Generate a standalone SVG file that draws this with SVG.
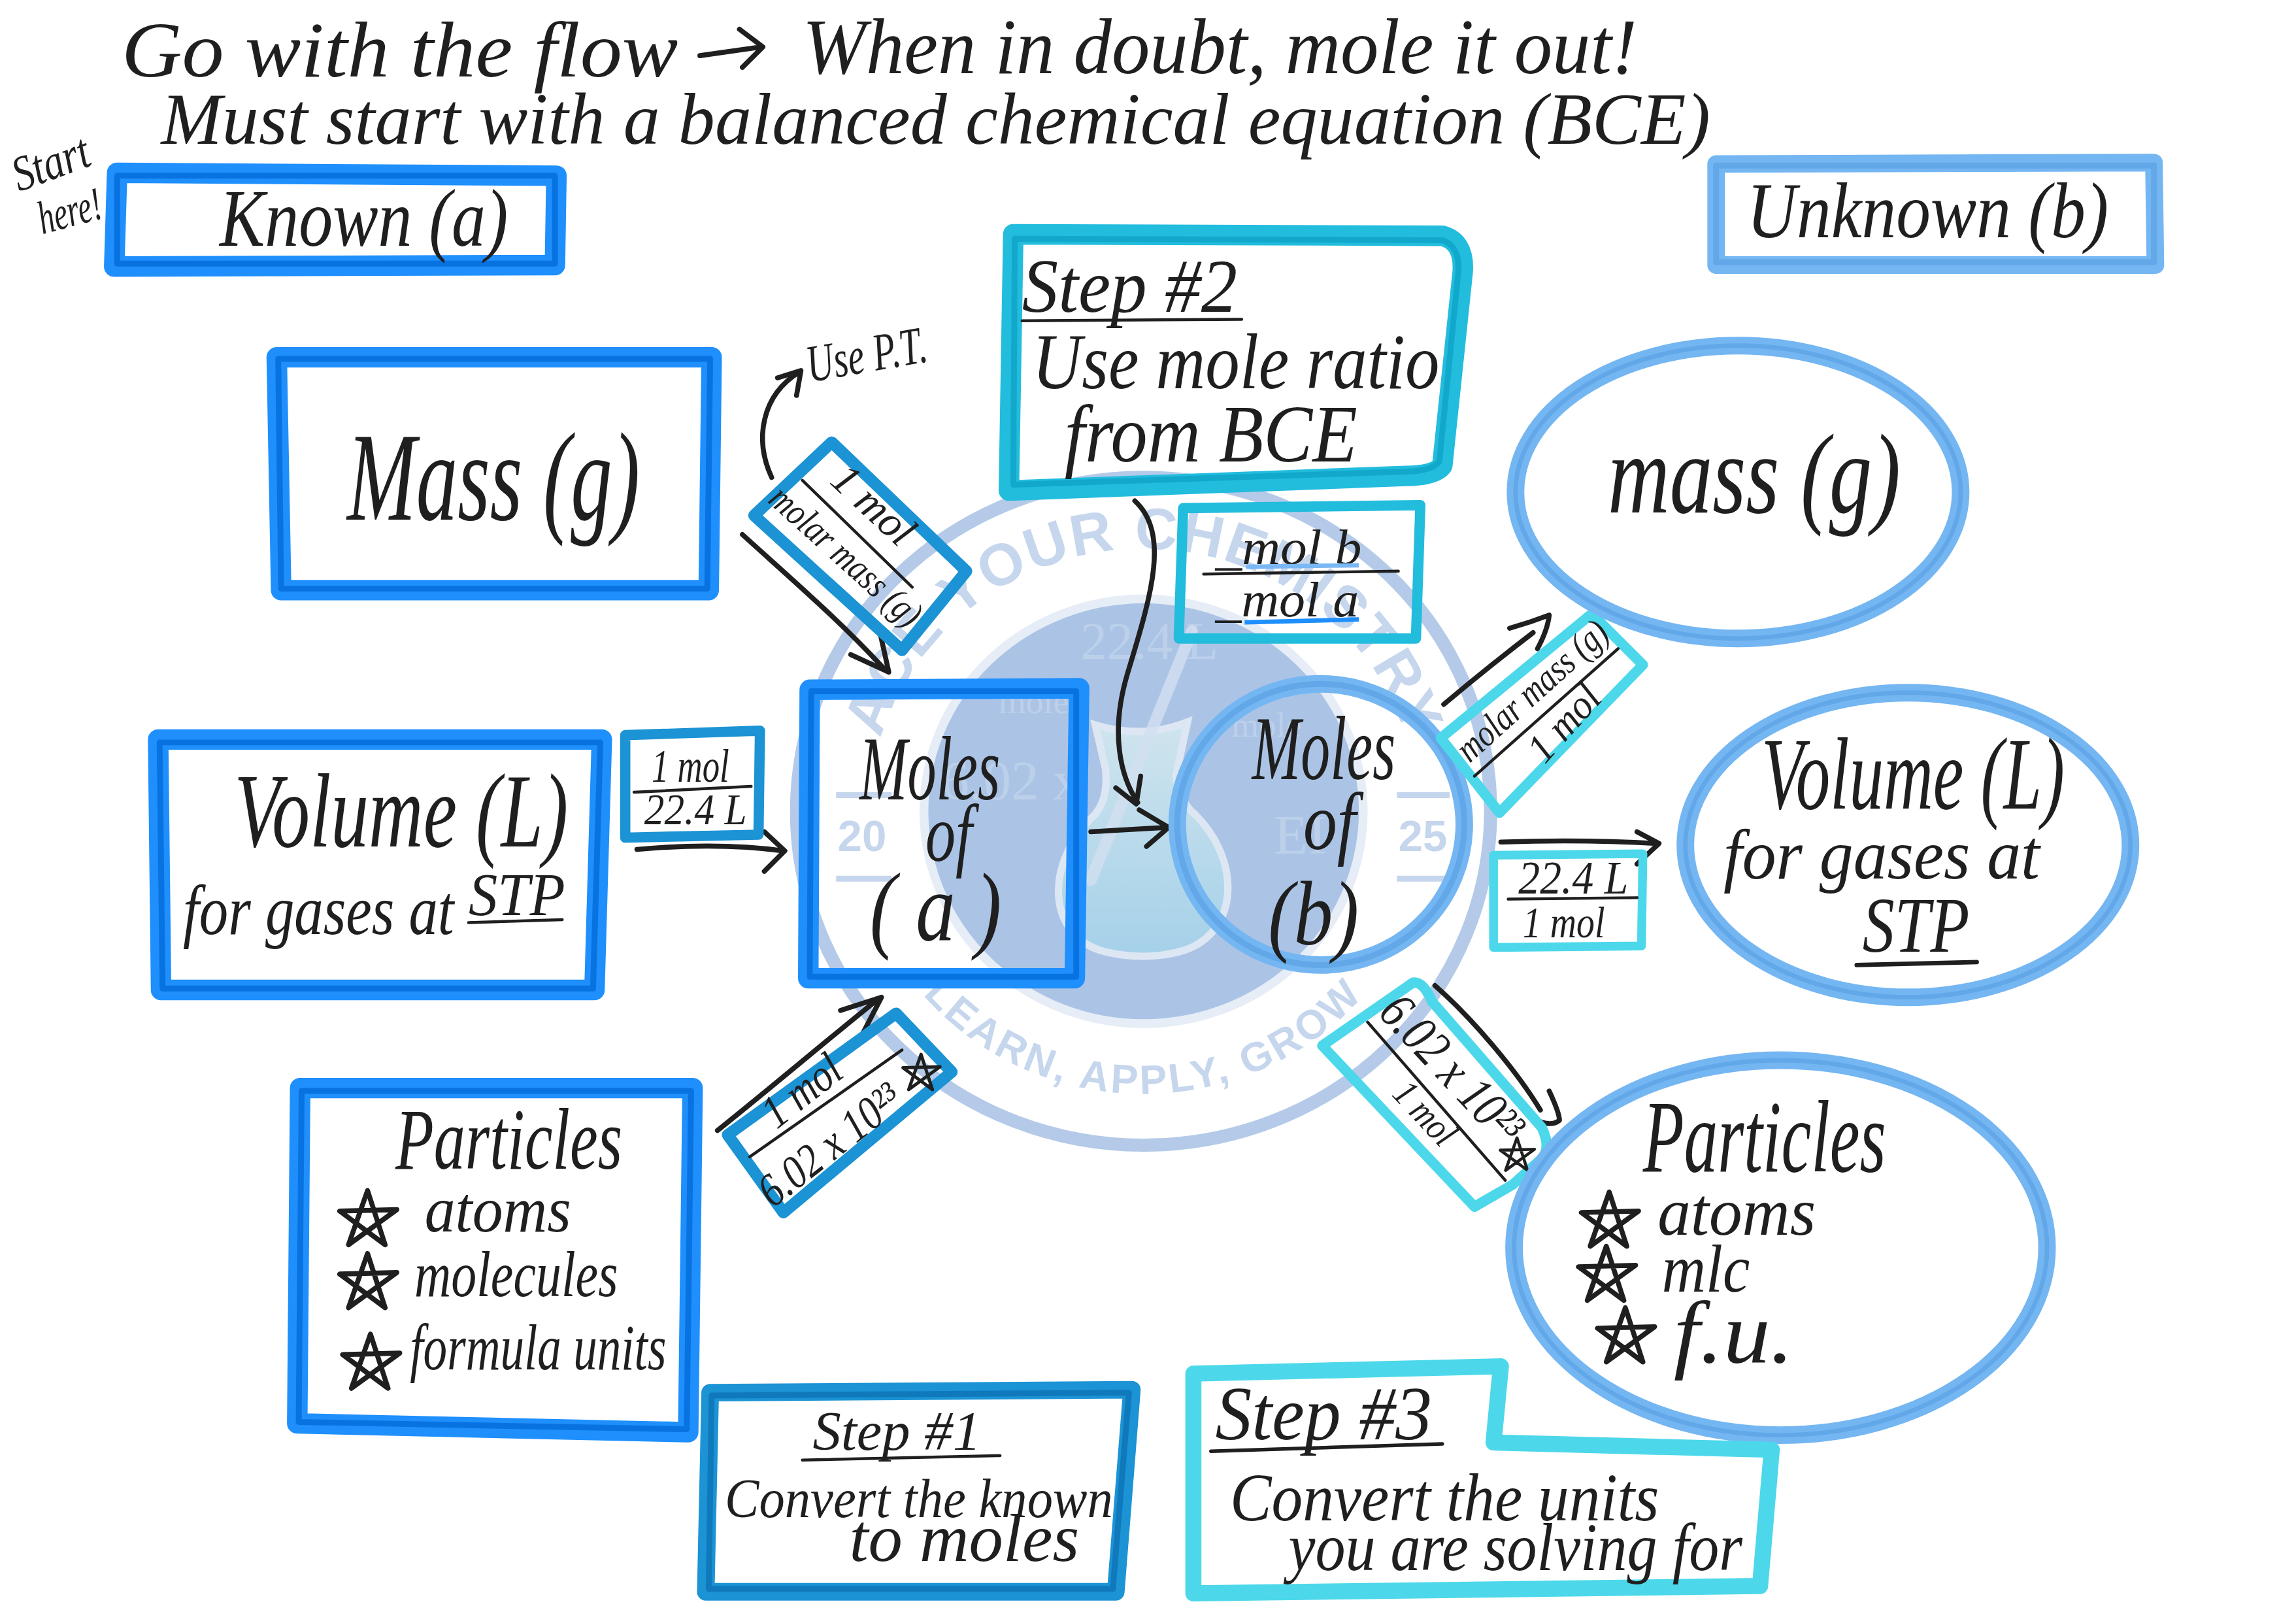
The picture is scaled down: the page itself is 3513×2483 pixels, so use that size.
<svg xmlns="http://www.w3.org/2000/svg" width="3513" height="2483" viewBox="0 0 3513 2483">
<style>
.h{font-family:"Liberation Serif","DejaVu Serif",serif;font-style:italic;fill:#1f1f1f}
.wm{font-family:"Liberation Sans",Arial,sans-serif;font-weight:700;fill:#c5d6ed}
.wd{font-family:"Liberation Serif",serif;fill:#bdd0ea}
.s{fill:none;stroke-linejoin:round;stroke-linecap:round}
.a{stroke:#1e8ffc;stroke-width:14}.ad{stroke:#0873e0;stroke-width:4}
.l{stroke:#74b6f2;stroke-width:12}.ld{stroke:#62a7e8;stroke-width:4}
.t{stroke:#22bcdd;stroke-width:14}.td{stroke:#12a8cc;stroke-width:4}
.m{stroke:#1b93d4;stroke-width:12}.md{stroke:#1079bb;stroke-width:4}
.c{stroke:#4cd8ea;stroke-width:9}
.k{fill:none;stroke:#1f1f1f;stroke-width:3.4;stroke-linecap:round;stroke-linejoin:round}
.u{fill:none;stroke:#1f1f1f;stroke-width:2;stroke-linecap:round}
</style>
<defs>
<path id="star" class="k" d="M0,-20L12,17L-19,-6L20,-7L-13,17Z"/>
<path id="topArc" d="M603,610A187,180 0 1 1 959,610"/>
<path id="botArc" d="M583,554A198,193 0 0 0 979,554"/>
<linearGradient id="liq" x1="0" y1="0" x2="0" y2="1"><stop offset="0" stop-color="#dff2f1"/><stop offset="1" stop-color="#a2d6ea"/></linearGradient>
</defs>
<rect width="3513" height="2483" fill="#fff"/>
<g transform="scale(2.2404)">
<g id="watermark">
<ellipse cx="781" cy="554" rx="237" ry="228" fill="none" stroke="#b4cae8" stroke-width="9"/>
<ellipse cx="781" cy="554" rx="150" ry="145" fill="#abc4e6" stroke="#e6edf6" stroke-width="6"/>
<text class="wm" font-size="40" text-anchor="middle" letter-spacing="1"><textPath href="#topArc" startOffset="50%">ACE YOUR CHEMISTRY</textPath></text>
<text class="wm" font-size="28" text-anchor="middle" letter-spacing="2"><textPath href="#botArc" startOffset="50%">LEARN, APPLY, GROW</textPath></text>
<text class="wm" font-size="30" x="572" y="581">20</text>
<text class="wm" font-size="30" x="955" y="581">25</text>
<path d="M571,543H609M571,600H609M954,543H990M954,600H990" stroke="#c5d6ed" stroke-width="4" fill="none"/>
<text class="wd" font-size="36" x="738" y="450">22.4 L</text>
<text class="wd" font-size="24" x="682" y="487">mole</text>
<text class="wd" font-size="24" x="841" y="503">mole</text>
<text class="wd" font-size="38" x="643" y="546">6.02 x</text>
<text class="wd" font-size="38" x="870" y="583">EI</text>
<path d="M748,495Q781,505 811,493L803,530Q806,548 816,556C850,590 845,640 805,650Q781,656 755,650C715,640 712,590 748,556Q757,545 755,525Z" fill="url(#liq)" fill-opacity=".7" stroke="#dde7f3" stroke-width="5"/>
<path d="M814,431L745,601" stroke="#d3e0f0" stroke-width="8" stroke-linecap="round" opacity=".8"/>
</g>
<g id="connectors">
<path class="k" d="M527,326C515,300 520,270 546,254M531,258L547,253L544,270"/>
<path class="k" d="M507,365C540,395 575,425 605,458M581,447L607,459L601,432"/>
<path class="k" d="M435,580Q490,575 535,581M522,568L536,581L522,595"/>
<path class="k" d="M490,772C530,740 565,710 600,682M574,690L602,681L588,708"/>
<path class="k" d="M745,568L797,565M778,553L798,565L783,578"/>
<path class="k" d="M775,342C800,365 785,410 770,460C758,500 765,530 777,548M762,538L776,549L779,530"/>
<path class="k" d="M986,481C1005,465 1030,445 1047,432M1031,429Q1045,425 1058,420Q1057,430 1050,443"/>
<path class="k" d="M1025,575Q1080,573 1132,576M1118,568L1133,576L1118,590"/>
<path class="k" d="M980,673C1005,695 1035,730 1052,758M1058,745Q1065,760 1065,765Q1060,769 1052,766"/>
</g>
<g id="title">
<text class="h" font-size="54" x="83" y="52" textLength="380" lengthAdjust="spacingAndGlyphs">Go with the flow</text>
<path class="k" d="M478,38L520,32M505,20L521,32L507,46"/>
<text class="h" font-size="54" x="548" y="50" textLength="570" lengthAdjust="spacingAndGlyphs">When in doubt, mole it out!</text>
<text class="h" font-size="50" x="110" y="98" textLength="1058" lengthAdjust="spacingAndGlyphs">Must start with a balanced chemical equation (BCE)</text>
<text class="h" font-size="34" transform="translate(13,131) rotate(-20)" textLength="54" lengthAdjust="spacingAndGlyphs">Start</text>
<text class="h" font-size="32" transform="translate(29,160) rotate(-15)" textLength="44" lengthAdjust="spacingAndGlyphs">here!</text>
</g>
<g id="known"><path class="s a" d="M80,118L380,120L379,181L78,182Z"/><path class="s ad" d="M80,120H379V180H80Z"/>
<text class="h" font-size="56" x="150" y="168" textLength="197" lengthAdjust="spacingAndGlyphs">Known (a)</text></g>
<g id="unknown"><path class="s l" d="M1172,112L1471,111L1472,181L1172,181Z"/><path class="s ld" d="M1172,113H1471V179H1172Z"/>
<text class="h" font-size="54" x="1193" y="162" textLength="247" lengthAdjust="spacingAndGlyphs">Unknown (b)</text></g>
<g id="mass-a"><path class="s a" d="M189,244L486,244L484,403L192,403Z"/><path class="s ad" d="M190,245H485L483,402H192Z"/>
<text class="h" font-size="86" x="237" y="355" textLength="200" lengthAdjust="spacingAndGlyphs">Mass (g)</text></g>
<g id="volume-a"><path class="s a" d="M108,505L411,505L406,676L110,676Z"/><path class="s ad" d="M109,507H410L405,675H111Z"/>
<text class="h" font-size="72" x="160" y="578" textLength="228" lengthAdjust="spacingAndGlyphs">Volume (L)</text>
<text class="h" font-size="48" x="125" y="638" textLength="185" lengthAdjust="spacingAndGlyphs">for gases at</text>
<text class="h" font-size="42" x="320" y="625" textLength="66" lengthAdjust="spacingAndGlyphs">STP</text>
<path class="u" d="M320,630L384,628"/></g>
<g id="particles-a"><path class="s a" d="M205,743L473,743L470,978L203,972Z"/><path class="s ad" d="M206,745H472L469,976L204,971Z"/>
<text class="h" font-size="60" x="270" y="798" textLength="155" lengthAdjust="spacingAndGlyphs">Particles</text>
<use href="#star" transform="translate(251,833)"/><text class="h" font-size="44" x="290" y="841" textLength="100" lengthAdjust="spacingAndGlyphs">atoms</text>
<use href="#star" transform="translate(251,876)"/><text class="h" font-size="44" x="283" y="885" textLength="139" lengthAdjust="spacingAndGlyphs">molecules</text>
<use href="#star" transform="translate(253,931)"/><text class="h" font-size="44" x="280" y="935" textLength="175" lengthAdjust="spacingAndGlyphs">formula units</text></g>
<g id="moles-a"><path class="s a" d="M553,471L737,470L734,668L552,668Z"/><path class="s ad" d="M554,472H735V667H553Z"/>
<text class="h" font-size="62" x="587" y="546" textLength="96" lengthAdjust="spacingAndGlyphs">Moles</text>
<text class="h" font-size="56" x="632" y="588" textLength="32" lengthAdjust="spacingAndGlyphs">of</text>
<text class="h" font-size="66" x="594" y="642" textLength="90" lengthAdjust="spacingAndGlyphs">( a )</text></g>
<g id="moles-b"><ellipse class="s l" cx="902" cy="563" rx="98" ry="96"/><ellipse class="s ld" cx="902" cy="563" rx="98" ry="96"/>
<text class="h" font-size="62" x="855" y="532" textLength="98" lengthAdjust="spacingAndGlyphs">Moles</text>
<text class="h" font-size="56" x="890" y="580" textLength="36" lengthAdjust="spacingAndGlyphs">of</text>
<text class="h" font-size="62" x="866" y="645" textLength="62" lengthAdjust="spacingAndGlyphs">(b)</text></g>
<g id="step2"><path class="s t" d="M692,160L985,161Q1000,165 999,185L985,318Q980,325 960,325L689,335Z"/><path class="s td" d="M693,163L985,164Q997,168 996,185L983,315Q978,322 960,322L692,331Z"/>
<text class="h" font-size="52" x="698" y="213" textLength="147" lengthAdjust="spacingAndGlyphs">Step #2</text><path class="u" d="M698,219L848,218"/>
<text class="h" font-size="54" x="705" y="265" textLength="278" lengthAdjust="spacingAndGlyphs">Use mole ratio</text>
<text class="h" font-size="56" x="727" y="315" textLength="200" lengthAdjust="spacingAndGlyphs">from BCE</text></g>
<g id="use-pt"><text class="h" font-size="36" transform="translate(553,261) rotate(-10)" textLength="83" lengthAdjust="spacingAndGlyphs">Use P.T.</text></g>
<g id="ratio"><path class="s t" style="stroke-width:7" d="M808,347L970,345L967,436L805,436Z"/>
<text class="h" font-size="34" x="830" y="385" textLength="100" lengthAdjust="spacingAndGlyphs">_mol b</text>
<path class="u" d="M822,392L955,390"/>
<text class="h" font-size="34" x="830" y="421" textLength="98" lengthAdjust="spacingAndGlyphs">_mol a</text>
<path d="M851,387L928,386" stroke="#7ab8f5" stroke-width="3" fill="none"/><path d="M850,425L928,423" stroke="#1e8ffc" stroke-width="3" fill="none"/></g>
<g id="factor-volume-a"><path class="s m" style="stroke-width:7" d="M427,502L519,499L518,570L427,572Z"/>
<text class="h" font-size="32" x="445" y="534" textLength="53" lengthAdjust="spacingAndGlyphs">1 mol</text><path class="u" d="M433,541L513,537"/>
<text class="h" font-size="30" x="440" y="563" textLength="70" lengthAdjust="spacingAndGlyphs">22.4 L</text></g>
<g id="factor-mass-a"><path class="s m" style="stroke-width:8" d="M515,352L568,302L660,390L616,444Z"/>
<path class="u" d="M548,328L623,401"/>
<text class="h" font-size="30" text-anchor="middle" transform="translate(590,352) rotate(43)" textLength="66" lengthAdjust="spacingAndGlyphs">1 mol</text>
<text class="h" font-size="26" text-anchor="middle" transform="translate(572,386) rotate(42)" textLength="130" lengthAdjust="spacingAndGlyphs">molar mass (g)</text></g>
<g id="factor-particles-a"><path class="s m" style="stroke-width:8" d="M497,775L612,692L650,732L535,828Z"/>
<path class="u" d="M512,790L616,717"/>
<text class="h" font-size="32" text-anchor="middle" transform="translate(554,753) rotate(-38)" textLength="60" lengthAdjust="spacingAndGlyphs">1 mol</text>
<text class="h" font-size="32" text-anchor="middle" transform="translate(573,790) rotate(-38)" textLength="115" lengthAdjust="spacingAndGlyphs">6.02 x 10²³</text>
<use href="#star" transform="translate(629,733) scale(.65)"/></g>
<g id="factor-mass-b"><path class="s c" style="stroke-width:7" d="M984,504L1086,420L1092,424L1122,454L1024,555Z"/>
<path class="u" d="M1007,530L1105,443"/>
<text class="h" font-size="26" text-anchor="middle" transform="translate(1052,478) rotate(-42)" textLength="130" lengthAdjust="spacingAndGlyphs">molar mass (g)</text>
<text class="h" font-size="28" text-anchor="middle" transform="translate(1075,500) rotate(-48)" textLength="60" lengthAdjust="spacingAndGlyphs">1 mol</text></g>
<g id="factor-volume-b"><path class="s c" style="stroke-width:6" d="M1020,584L1122,583L1121,646L1020,647Z"/>
<text class="h" font-size="32" x="1037" y="610" textLength="75" lengthAdjust="spacingAndGlyphs">22.4 L</text><path class="u" d="M1030,614L1118,613"/>
<text class="h" font-size="30" x="1040" y="640" textLength="56" lengthAdjust="spacingAndGlyphs">1 mol</text></g>
<g id="factor-particles-b"><path class="s c" style="stroke-width:7" d="M903,714L965,671Q972,670 978,684L1053,770Q1060,785 1052,792L1033,809L1007,824Z"/>
<path class="u" d="M934,698L1028,806"/>
<text class="h" font-size="36" text-anchor="middle" transform="translate(983,738) rotate(47)" textLength="125" lengthAdjust="spacingAndGlyphs">6.02 x 10²³</text>
<text class="h" font-size="26" text-anchor="middle" transform="translate(967,766) rotate(47)" textLength="50" lengthAdjust="spacingAndGlyphs">1 mol</text>
<use href="#star" transform="translate(1036,789) scale(.6)"/></g>
<g id="mass-b"><ellipse class="s l" cx="1187" cy="336" rx="152" ry="100"/><ellipse class="s ld" style="stroke-width:3" cx="1187" cy="336" rx="152" ry="100"/>
<text class="h" font-size="78" x="1098" y="350" textLength="200" lengthAdjust="spacingAndGlyphs">mass (g)</text></g>
<g id="volume-b"><ellipse class="s l" cx="1303" cy="577" rx="152" ry="104"/><ellipse class="s ld" style="stroke-width:3" cx="1303" cy="577" rx="152" ry="104"/>
<text class="h" font-size="70" x="1203" y="552" textLength="207" lengthAdjust="spacingAndGlyphs">Volume (L)</text>
<text class="h" font-size="48" x="1177" y="600" textLength="216" lengthAdjust="spacingAndGlyphs">for gases at</text>
<text class="h" font-size="54" x="1272" y="650" textLength="73" lengthAdjust="spacingAndGlyphs">STP</text><path class="u" style="stroke-width:3" d="M1268,659L1350,657"/></g>
<g id="particles-b"><ellipse class="s l" cx="1216" cy="852" rx="182" ry="128"/><ellipse class="s ld" style="stroke-width:3" cx="1216" cy="852" rx="182" ry="128"/>
<text class="h" font-size="70" x="1122" y="800" textLength="166" lengthAdjust="spacingAndGlyphs">Particles</text>
<use href="#star" transform="translate(1099,834)"/><text class="h" font-size="46" x="1132" y="843" textLength="108" lengthAdjust="spacingAndGlyphs">atoms</text>
<use href="#star" transform="translate(1097,871)"/><text class="h" font-size="46" x="1135" y="882" textLength="60" lengthAdjust="spacingAndGlyphs">mlc</text>
<use href="#star" transform="translate(1110,913)"/><text class="h" font-size="60" x="1143" y="930" textLength="82" lengthAdjust="spacingAndGlyphs">f.u.</text></g>
<g id="step1"><path class="s m" d="M485,951L773,949L762,1087L482,1087Z"/><path class="s md" d="M486,953L771,951L760,1085L484,1085Z"/>
<text class="h" font-size="38" x="555" y="990" textLength="115" lengthAdjust="spacingAndGlyphs">Step #1</text><path class="u" d="M548,997L683,994"/>
<text class="h" font-size="38" x="495" y="1036" textLength="265" lengthAdjust="spacingAndGlyphs">Convert the known</text>
<text class="h" font-size="46" x="580" y="1066" textLength="157" lengthAdjust="spacingAndGlyphs">to moles</text></g>
<g id="step3"><path class="s c" style="stroke-width:11" d="M815,938L1025,933L1020,985L1210,990L1202,1083L815,1088Z"/>
<text class="h" font-size="52" x="830" y="983" textLength="148" lengthAdjust="spacingAndGlyphs">Step #3</text><path class="u" style="stroke-width:2.5" d="M827,991L985,986"/>
<text class="h" font-size="46" x="840" y="1038" textLength="293" lengthAdjust="spacingAndGlyphs">Convert the units</text>
<text class="h" font-size="46" x="880" y="1072" textLength="310" lengthAdjust="spacingAndGlyphs">you are solving for</text></g>
</g>
</svg>
